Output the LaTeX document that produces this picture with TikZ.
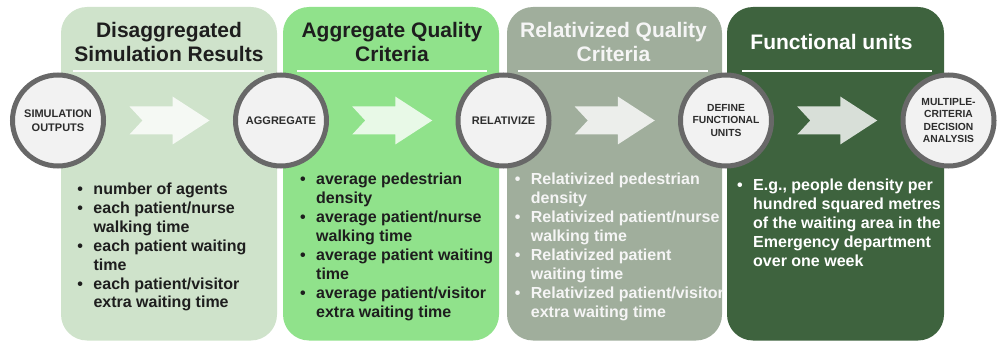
\documentclass[tikz,border=0pt]{standalone}
\usepackage{fontspec}
\setmainfont{Liberation Sans}
\usetikzlibrary{calc}

\definecolor{panelone}{RGB}{207,227,203}
\definecolor{paneltwo}{RGB}{144,226,139}
\definecolor{panelthree}{RGB}{160,174,156}
\definecolor{panelfour}{RGB}{62,99,62}
\definecolor{ringgray}{RGB}{104,104,104}
\definecolor{stagefill}{RGB}{242,242,242}
\definecolor{stagetext}{RGB}{45,45,45}
\definecolor{darktext}{RGB}{30,30,30}
\definecolor{lighttext}{RGB}{245,245,245}

\tikzset{
  panel/.style={rounded corners=26pt},
  sepline/.style={draw=white, line width=1.3pt},
  headtxt/.style={font=\fontsize{21}{24.3}\selectfont\bfseries, align=center, anchor=base, inner sep=0pt},
  listtxt/.style={font=\fontsize{16}{19}\selectfont\bfseries, anchor=base west, inner sep=0pt},
  stage/.style={circle, draw=ringgray, line width=5pt, fill=stagefill, minimum size=91pt, inner sep=0pt,
    align=center, text=stagetext, font=\fontsize{11}{13.5}\selectfont\bfseries},
  smallstage/.style={stage, font=\fontsize{10.3}{12.3}\selectfont\bfseries},
  flowarrow/.style={fill=white, fill opacity=0.8}
}
\newcommand{\bul}{\textbullet}

\begin{document}
\begin{tikzpicture}[x=1pt,y=-1pt]
  \useasboundingbox (0,0) rectangle (999,342);
  \fill[panel,panelone] (61,7) rectangle (277,340.5);
  \fill[panel,paneltwo] (283,7) rectangle (499,340.5);
  \fill[panel,panelthree] (507,7) rectangle (722,340.5);
  \fill[panel,panelfour] (727,7) rectangle (944,340.5);
  \draw[sepline] (73,71) -- (264,71);
  \draw[sepline] (297,71) -- (487,71);
  \draw[sepline] (518,71) -- (708,71);
  \draw[sepline] (742,71) -- (932,71);

  \node[headtxt,text=darktext] (hdone) at (169,61.7) {Disaggregated\\Simulation Results};
  \node[headtxt,text=darktext] (hdtwo) at (392,61.7) {Aggregate Quality\\Criteria};
  \node[headtxt,text=lighttext] (hdthree) at (613.5,61.7) {Relativized Quality\\Criteria};
  \node[headtxt,text=white] (hdfour) at (831.5,49.5) {Functional units};

  \node[listtxt,text=darktext] (lstone) at (77.2,194) {\begin{tabular}[t]{@{}l@{\hspace{10.5pt}}l@{}}
    \bul & number of agents\\
    \bul & each patient/nurse\\
         & walking time\\
    \bul & each patient waiting\\
         & time\\
    \bul & each patient/visitor\\
         & extra waiting time
  \end{tabular}};
  \node[listtxt,text=darktext] (lsttwo) at (299.9,185) {\begin{tabular}[t]{@{}l@{\hspace{10.5pt}}l@{}}
    \bul & average pedestrian\\
         & density\\
    \bul & average patient/nurse\\
         & walking time\\
    \bul & average patient waiting\\
         & time\\
    \bul & average patient/visitor\\
         & extra waiting time
  \end{tabular}};
  \node[listtxt,text=lighttext] (lstthree) at (514.6,185) {\begin{tabular}[t]{@{}l@{\hspace{10.5pt}}l@{}}
    \bul & Relativized pedestrian\\
         & density\\
    \bul & Relativized patient/nurse\\
         & walking time\\
    \bul & Relativized patient\\
         & waiting time\\
    \bul & Relativized patient/visitor\\
         & extra waiting time
  \end{tabular}};
  \node[listtxt,text=white] (lstfour) at (736.9,190) {\begin{tabular}[t]{@{}l@{\hspace{10.5pt}}l@{}}
    \bul & E.g., people density per\\
         & hundred squared metres\\
         & of the waiting area in the\\
         & Emergency department\\
         & over one week
  \end{tabular}};

  \node[stage] (simout) at (58,120.5) {SIMULATION\\OUTPUTS};
  \node[stage] (aggr) at (281,120.5) {AGGREGATE};
  \node[stage] (relat) at (503.5,120.5) {RELATIVIZE};
  \node[smallstage] (fundef) at (726,120.5) {DEFINE\\FUNCTIONAL\\UNITS};
  \node[smallstage] (mcda) at (948.5,120.5) {MULTIPLE-\\CRITERIA\\DECISION\\ANALYSIS};

  \foreach \from/\to in {simout/aggr, aggr/relat, relat/fundef, fundef/mcda}
    \fill[flowarrow, shift={($(\from)!0.5!(\to)$)}] (-40,-14) -- (3,-14) -- (3,-24) -- (40,0)
      -- (3,24) -- (3,14) -- (-40,14) -- (-27,0) -- cycle;
\end{tikzpicture}
\end{document}
